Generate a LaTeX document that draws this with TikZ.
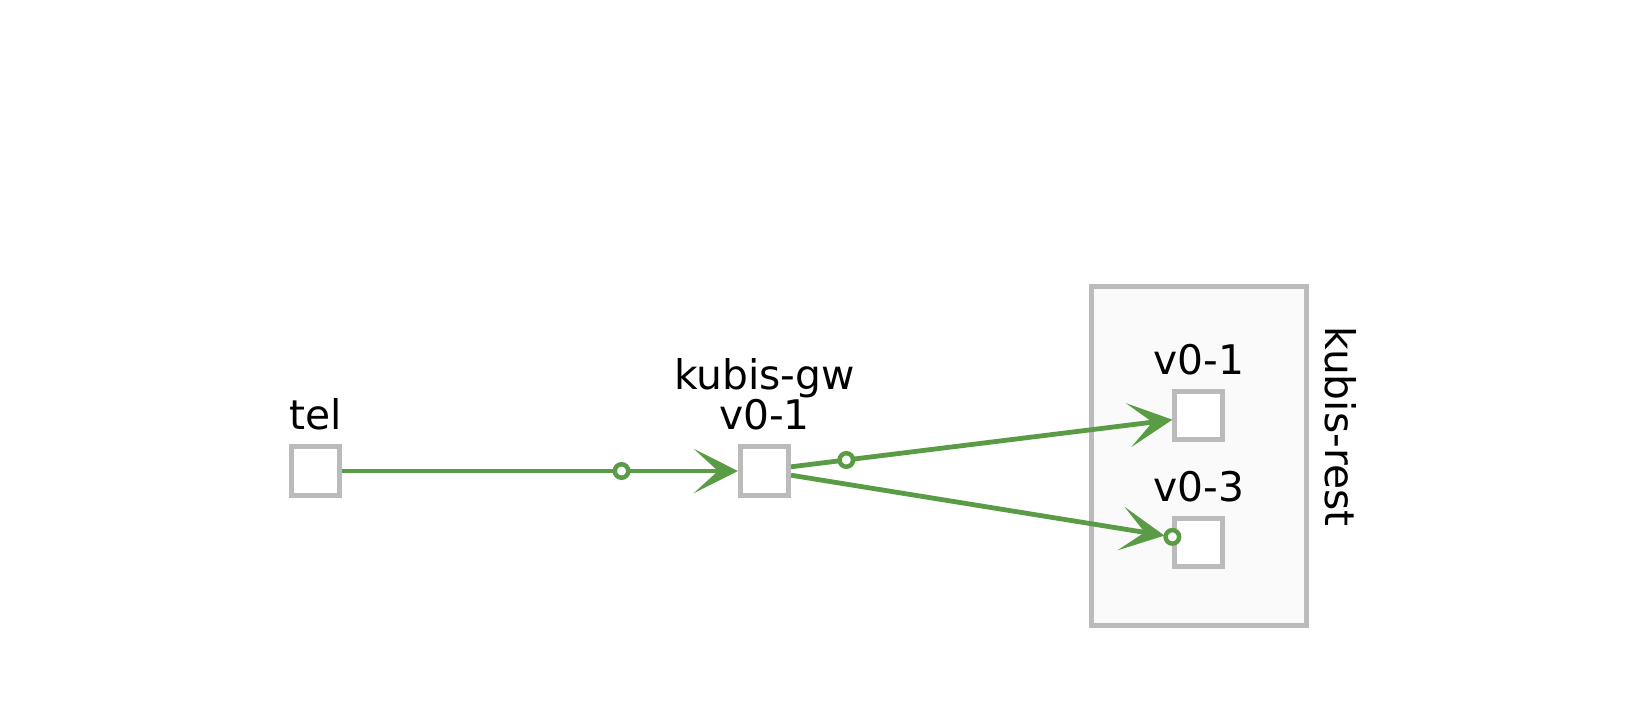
\documentclass[tikz,border=0pt]{standalone}
\usepackage{fontspec}
\setmainfont{DejaVu Sans}
\usepackage{xcolor}
\usepackage{tikz}
\usetikzlibrary{arrows.meta}
\definecolor{flowgreen}{HTML}{5A9C46}
\definecolor{boxgray}{HTML}{BBBBBB}
\definecolor{nsfill}{HTML}{FAFAFA}

\begin{document}
\begin{tikzpicture}[x=0.01cm, y=-0.01cm,
  font=\fontsize{11.6}{11.4}\selectfont,
  every label/.style={inner sep=0pt, outer sep=0pt, align=center},
  label distance=0.14cm,
  svc/.style={draw=boxgray, fill=white, line width=0.05cm, minimum size=0.48cm, inner sep=0pt},
  nsbox/.style={draw=boxgray, fill=nsfill, line width=0.05cm, minimum width=2.15cm, minimum height=3.38cm, inner sep=0pt},
  flow/.style={draw=flowgreen, line width=0.048cm, -{Stealth[length=0.44cm, width=0.44cm, inset=0.24cm]}},
  ring/.style={circle, draw=flowgreen, fill=white, line width=0.045cm, minimum size=0.135cm, inner sep=0pt}]
\useasboundingbox (0,0) rectangle (1642,718);
% namespace box
\node[nsbox] (rest) at (1199.3,456) {};
\node[rotate=-90, anchor=base] (restname) at (1325,426.5) {kubis-rest};
% workloads
\node[svc, label={above:tel}] (tel) at (315.5,471) {};
\node[svc, label={above:{kubis-gw\\v0-1}}] (gw) at (764.5,471) {};
\node[svc, label={above:v0-1}] (v01) at (1198.9,415.5) {};
\node[svc, label={above:v0-3}] (v03) at (1198.9,542.5) {};
% traffic
\draw[flow] (tel) -- node[ring, pos=0.706] (r1) {} (gw);
\draw[flow] (gw.9) -- node[ring, pos=0.145] (r2) {} (v01.189);
\draw[flow, shorten >=0.08cm] (gw.-9) -- node[ring, pos=1] (r3) {} (v03.168);
\end{tikzpicture}
\end{document}
